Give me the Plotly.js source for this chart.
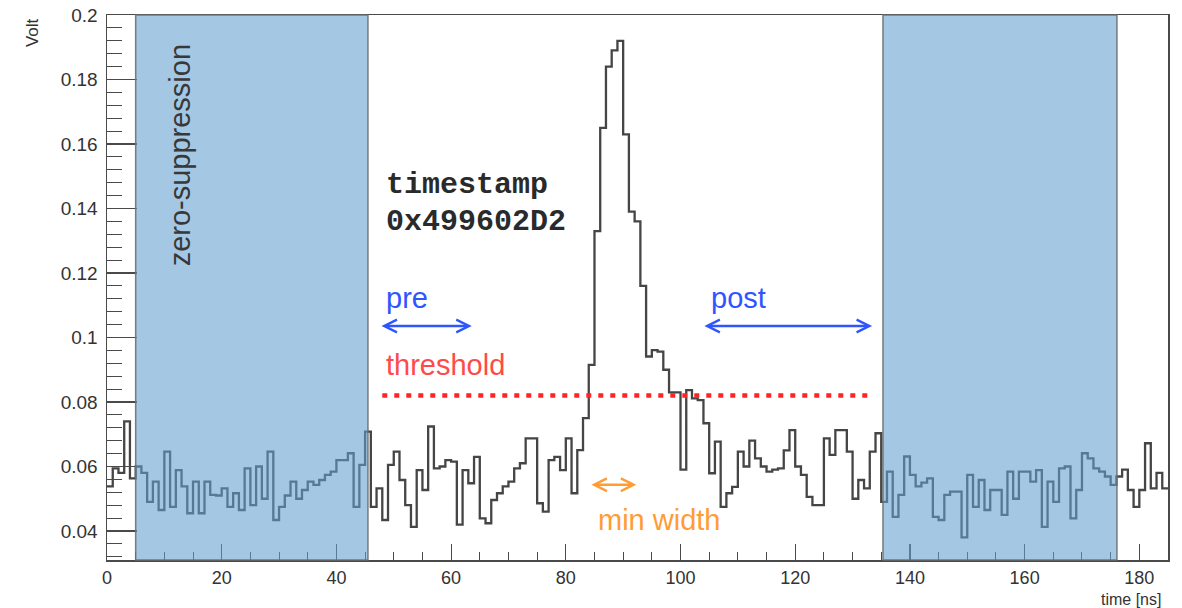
<!DOCTYPE html>
<html>
<head>
<meta charset="utf-8">
<script src="https://cdn.plot.ly/plotly-3.0.1.min.js"></script>
<style>
  html, body { margin: 0; padding: 0; background: #ffffff; }
  #chart { width: 1182px; height: 608px; }
</style>
</head>
<body>
<div id="chart"></div>
<script>
// ---------------- data ----------------
// one sample per 1 ns bin, bins 0..184 ns
const voltage = [
  0.0538, 0.0594, 0.0580, 0.0740, 0.0563, 0.0600, 0.0580, 0.0490, 0.0553, 0.0465,
  0.0646, 0.0475, 0.0589, 0.0538, 0.0455, 0.0553, 0.0455, 0.0553, 0.0512, 0.0510,
  0.0532, 0.0475, 0.0517, 0.0465, 0.0594, 0.0480, 0.0600, 0.0500, 0.0646, 0.0434,
  0.0475, 0.0510, 0.0553, 0.0500, 0.0527, 0.0553, 0.0543, 0.0558, 0.0574, 0.0584,
  0.0620, 0.0620, 0.0641, 0.0475, 0.0605, 0.0708, 0.0475, 0.0532, 0.0434, 0.0605,
  0.0646, 0.0558, 0.0480, 0.0413, 0.0589, 0.0527, 0.0724, 0.0594, 0.0600, 0.0620,
  0.0615, 0.0420, 0.0589, 0.0548, 0.0630, 0.0439, 0.0424, 0.0496, 0.0517, 0.0538,
  0.0553, 0.0594, 0.0610, 0.0687, 0.0687, 0.0486, 0.0460, 0.0620, 0.0630, 0.0589,
  0.0687, 0.0517, 0.0651, 0.0750, 0.0915, 0.1330, 0.1650, 0.1840, 0.1890, 0.1920,
  0.1630, 0.1390, 0.1360, 0.1160, 0.0941, 0.0961, 0.0956, 0.0900, 0.0830, 0.0830,
  0.0590, 0.0837, 0.0811, 0.0806, 0.0734, 0.0579, 0.0677, 0.0475, 0.0517, 0.0537,
  0.0646, 0.0600, 0.0680, 0.0625, 0.0600, 0.0584, 0.0590, 0.0594, 0.0650, 0.0713,
  0.0600, 0.0574, 0.0506, 0.0480, 0.0480, 0.0687, 0.0636, 0.0713, 0.0713, 0.0646,
  0.0500, 0.0558, 0.0532, 0.0646, 0.0703, 0.0490, 0.0584, 0.0444, 0.0512, 0.0631,
  0.0574, 0.0538, 0.0550, 0.0563, 0.0444, 0.0434, 0.0512, 0.0522, 0.0522, 0.0380,
  0.0574, 0.0475, 0.0558, 0.0465, 0.0527, 0.0527, 0.0450, 0.0584, 0.0500, 0.0584,
  0.0584, 0.0553, 0.0589, 0.0413, 0.0553, 0.0490, 0.0594, 0.0600, 0.0439, 0.0527,
  0.0641, 0.0625, 0.0594, 0.0584, 0.0569, 0.0543, 0.0569, 0.0590, 0.0527, 0.0475,
  0.0527, 0.0672, 0.0532, 0.0580, 0.0532
];
const binWidthNs = 1;

// zero-suppression windows [start, end] in ns
const zsStart = [5, 135.3];
const zsEnd   = [45.5, 176.1];

// threshold line
const thresholdVolt = 0.082;
const thresholdFrom = 48;
const thresholdTo   = 133.6;

// double arrows: [from, to] in ns and their level in volt
const preArrow   = [47.6, 63.6];
const postArrow  = [103.9, 133.4];
const arrowVolt  = 0.1036;
const minWidthArrow = [84.2, 92.3];
const minWidthVolt  = 0.0543;

// axis settings
const xRange = [0, 185];
const yRange = [0.031, 0.2];
const timestampLines = ['timestamp', '0x499602D2'];

// ---------------- build traces ----------------
const edges = voltage.map((v, i) => i * binWidthNs);
edges.push(voltage.length * binWidthNs);
const histY = voltage.slice();
histY.push(voltage[voltage.length - 1]);

const histTrace = {
  type: 'scatter', mode: 'lines',
  x: edges, y: histY,
  line: { shape: 'hv', color: '#454545', width: 2.3 },
  hoverinfo: 'skip', showlegend: false
};

const thresholdTrace = {
  type: 'scatter', mode: 'lines',
  x: [thresholdFrom, thresholdTo], y: [thresholdVolt, thresholdVolt],
  line: { color: '#ff2424', width: 4.5, dash: '5px,7px' },
  hoverinfo: 'skip', showlegend: false
};

const shapes = zsStart.map((s, i) => ({
  type: 'rect', layer: 'above',
  xref: 'x', yref: 'paper',
  x0: s, x1: zsEnd[i], y0: 0, y1: 1,
  fillcolor: 'rgba(98,160,208,0.58)',
  line: { color: 'rgba(110,110,110,0.9)', width: 1.5 }
}));

function dblArrow(range, level, color) {
  return {
    xref: 'x', yref: 'y', axref: 'x', ayref: 'y',
    x: range[1], y: level, ax: range[0], ay: level,
    text: '', showarrow: true, arrowside: 'end+start',
    arrowhead: 5, startarrowhead: 5, arrowsize: 1, startarrowsize: 1,
    arrowwidth: 2.5, arrowcolor: color, standoff: 0, startstandoff: 0
  };
}

const labelFont = 'Liberation Sans, Arial, Helvetica, sans-serif';
const blue = '#2f55ff';
const orange = '#ff9c33';

const annotations = [
  { xref: 'x', yref: 'y', x: 12.8, y: 0.1566, text: 'zero-suppression', textangle: -90,
    showarrow: false, font: { family: labelFont, size: 29, color: '#383838' } },
  { xref: 'x', yref: 'y', x: 48.3, y: 0.1473, xanchor: 'left', text: timestampLines[0],
    showarrow: false, font: { family: 'Liberation Mono, Courier New, monospace', size: 30, color: '#2a2a2a', weight: 'bold' } },
  { xref: 'x', yref: 'y', x: 48.3, y: 0.1358, xanchor: 'left', text: timestampLines[1],
    showarrow: false, font: { family: 'Liberation Mono, Courier New, monospace', size: 30, color: '#2a2a2a', weight: 'bold' } },
  { xref: 'x', yref: 'y', x: 48.3, y: 0.1122, xanchor: 'left', text: 'pre',
    showarrow: false, font: { family: labelFont, size: 29, color: blue } },
  { xref: 'x', yref: 'y', x: 105.0, y: 0.1122, xanchor: 'left', text: 'post',
    showarrow: false, font: { family: labelFont, size: 29, color: blue } },
  { xref: 'x', yref: 'y', x: 48.3, y: 0.0915, xanchor: 'left', text: 'threshold',
    showarrow: false, font: { family: labelFont, size: 29, color: '#ff4a4a' } },
  { xref: 'x', yref: 'y', x: 85.3, y: 0.0434, xanchor: 'left', text: 'min width',
    showarrow: false, font: { family: labelFont, size: 29, color: orange } },
  dblArrow(preArrow, arrowVolt, blue),
  dblArrow(postArrow, arrowVolt, blue),
  dblArrow(minWidthArrow, minWidthVolt, orange),
  { xref: 'paper', yref: 'paper', x: -0.0697, y: 0.967, xanchor: 'center', yanchor: 'middle',
    text: 'Volt', textangle: -90,
    showarrow: false, font: { family: labelFont, size: 17, color: '#333' } },
  { xref: 'paper', yref: 'paper', x: 0.995, y: -0.0725, xanchor: 'right', yanchor: 'middle',
    text: 'time [ns]',
    showarrow: false, font: { family: labelFont, size: 16, color: '#333' } }
];

const axisColor = '#4a4a4a';
const layout = {
  width: 1182, height: 608,
  margin: { l: 107, r: 14, t: 15, b: 48 },
  paper_bgcolor: '#ffffff', plot_bgcolor: '#ffffff',
  showlegend: false,
  xaxis: {
    range: xRange, tick0: 0, dtick: 20,
    ticks: 'inside', ticklen: 16, tickwidth: 1.2, tickcolor: axisColor,
    minor: { dtick: 5, tick0: 0, ticks: 'inside', ticklen: 8, tickwidth: 1, tickcolor: axisColor },
    showgrid: false, zeroline: false,
    showline: true, linecolor: axisColor, linewidth: 1.5, mirror: true,
    tickfont: { family: labelFont, size: 18, color: '#333' },
    ticklabelstandoff: 1
  },
  yaxis: {
    range: yRange, tick0: 0, dtick: 0.02,
    ticks: 'inside', ticklen: 30, tickwidth: 1.2, tickcolor: axisColor,
    minor: { dtick: 0.004, tick0: 0, ticks: 'inside', ticklen: 15, tickwidth: 1, tickcolor: axisColor },
    showgrid: false, zeroline: false,
    showline: true, linecolor: axisColor, linewidth: 1.5, mirror: true,
    tickfont: { family: labelFont, size: 19, color: '#333' },
    ticklabelstandoff: 4
  },
  shapes: shapes,
  annotations: annotations
};

Plotly.newPlot('chart', [histTrace, thresholdTrace], layout, { staticPlot: true, displayModeBar: false });
</script>
</body>
</html>
